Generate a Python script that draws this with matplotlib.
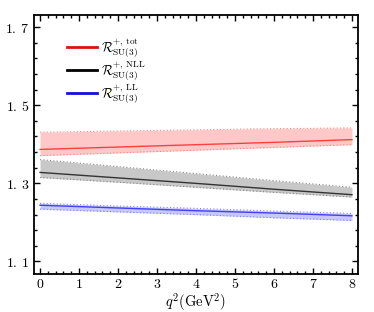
import numpy as np
import matplotlib.pyplot as plt
from matplotlib.ticker import FixedLocator, MultipleLocator, FuncFormatter

plt.rcParams['mathtext.fontset'] = 'cm'
plt.rcParams['font.family'] = 'serif'
plt.rcParams['font.serif'] = ['DejaVu Serif']

# q^2 grid points
q2 = [0, 2, 4, 6, 8]

tot_c = [1.387, 1.393, 1.399, 1.405, 1.412]
tot_hi = [1.431, 1.434, 1.437, 1.440, 1.442]
tot_lo = [1.371, 1.378, 1.385, 1.392, 1.399]

nll_c = [1.328, 1.314, 1.300, 1.285, 1.271]
nll_hi = [1.361, 1.343, 1.325, 1.307, 1.290]
nll_lo = [1.315, 1.303, 1.290, 1.277, 1.265]

ll_c = [1.244, 1.237, 1.230, 1.224, 1.217]
ll_hi = [1.249, 1.242, 1.236, 1.229, 1.223]
ll_lo = [1.234, 1.227, 1.220, 1.212, 1.205]

yticks = [1.1, 1.3, 1.5, 1.7]

labels = [r'$\mathcal{R}^{+,\,\mathrm{tot}}_{\mathrm{SU(3)}}$',
          r'$\mathcal{R}^{+,\,\mathrm{NLL}}_{\mathrm{SU(3)}}$',
          r'$\mathcal{R}^{+,\,\mathrm{LL}}_{\mathrm{SU(3)}}$']

series = [
    (tot_c, tot_hi, tot_lo, '#ff4040', '#ffc8c8', '#ff8080', '#e01010'),
    (nll_c, nll_hi, nll_lo, '#333333', '#c8c8c8', '#888888', 'black'),
    (ll_c, ll_hi, ll_lo, '#4040ff', '#c8c8ff', '#8080ff', '#1010e0'),
]

fig = plt.figure(figsize=(3.74, 3.12), dpi=100)
ax = fig.add_axes([34 / 374, 1 - 274 / 312, 324 / 374, 259 / 312])

for c, hi, lo, lc, fc, ec, _ in series:
    ax.fill_between(q2, lo, hi, color=fc, lw=0)
    ax.plot(q2, hi, color=ec, lw=0.8, ls=(0, (1, 2)))
    ax.plot(q2, lo, color=ec, lw=0.8, ls=(0, (1, 2)))
    ax.plot(q2, c, color=lc, lw=1.0)

# legend handles
hs = [ax.plot([], [], color=s[6], lw=2.0)[0] for s in series]
ax.legend(hs, labels, loc='upper left', bbox_to_anchor=(0.065, 0.965),
          frameon=False, fontsize=9.5, handlelength=2.3, labelspacing=0.0,
          handletextpad=0.3)

ax.set_xlim(-0.155, 8.155)
ax.set_ylim(1.068, 1.731)
ax.xaxis.set_major_locator(MultipleLocator(1))
ax.xaxis.set_minor_locator(MultipleLocator(0.2))
ax.yaxis.set_major_locator(FixedLocator(yticks))
ax.yaxis.set_minor_locator(FixedLocator(np.arange(1.1, 1.73, 0.04)))
ax.yaxis.set_major_formatter(FuncFormatter(lambda v, p: (r'$%.1f$' % v).replace('.', r'.\,')))
ax.xaxis.set_major_formatter(FuncFormatter(lambda v, p: r'$%d$' % v))
ax.tick_params(which='both', direction='in', top=True, right=True, labelsize=10, width=1.0)
ax.tick_params(which='major', length=4)
ax.tick_params(which='minor', length=2)
ax.tick_params(axis='x', pad=2)
for s in ax.spines.values():
    s.set_linewidth(1.3)
ax.set_xlabel(r'$q^2(\mathrm{GeV}^2)$', fontsize=10.5, labelpad=0)

fig.savefig('out.png', dpi=100)
